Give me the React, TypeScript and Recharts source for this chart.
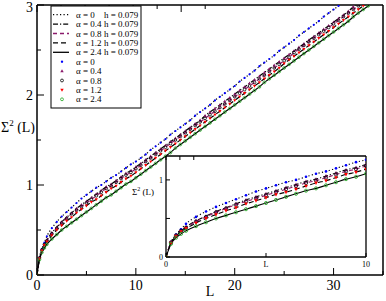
import { ComposedChart, Line, XAxis, YAxis, CartesianGrid } from "recharts";

const FONT = "'Liberation Serif', 'Times New Roman', serif";

// system size L
const lengths = [
  0, 0.25, 0.5, 0.75, 1, 1.5, 2, 2.5, 3,
  3.5, 4, 4.5, 5, 5.5, 6, 6.5, 7, 7.5, 8, 8.5, 9, 9.5, 10,
  10.5, 11, 11.5, 12, 12.5, 13, 13.5, 14, 14.5, 15,
  15.5, 16, 16.5, 17, 17.5, 18, 18.5, 19, 19.5, 20,
  20.5, 21, 21.5, 22, 22.5, 23, 23.5, 24, 24.5, 25,
  25.5, 26, 26.5, 27, 27.5, 28, 28.5, 29, 29.5, 30,
  30.5, 31, 31.5, 32, 32.5, 33, 33.5, 34, 34.5, 35,
];

// number variance for each alpha
const alpha0 = [
  0, 0.19, 0.29, 0.36, 0.43, 0.52, 0.59, 0.65, 0.7,
  0.75, 0.8, 0.85, 0.89, 0.93, 0.97, 1.0, 1.04, 1.08, 1.11, 1.15, 1.19, 1.23, 1.26,
  1.3, 1.34, 1.39, 1.43, 1.47, 1.51, 1.56, 1.6, 1.64, 1.68,
  1.72, 1.77, 1.81, 1.85, 1.89, 1.94, 1.98, 2.02, 2.06, 2.1,
  2.15, 2.19, 2.23, 2.27, 2.32, 2.36, 2.4, 2.44, 2.49, 2.53,
  2.57, 2.61, 2.66, 2.7, 2.74, 2.78, 2.82, 2.87, 2.91, 2.95,
  2.99, 3.04, 3.08, 3.12, 3.16, 3.21, 3.25, 3.29, 3.33, 3.38,
];
const alpha04 = [
  0, 0.19, 0.28, 0.34, 0.39, 0.47, 0.53, 0.59, 0.64,
  0.69, 0.74, 0.78, 0.82, 0.86, 0.9, 0.94, 0.98, 1.01, 1.05, 1.09, 1.13, 1.16, 1.2,
  1.24, 1.28, 1.32, 1.36, 1.4, 1.44, 1.48, 1.52, 1.56, 1.6,
  1.64, 1.68, 1.72, 1.77, 1.81, 1.85, 1.89, 1.93, 1.97, 2.01,
  2.05, 2.09, 2.13, 2.17, 2.21, 2.25, 2.29, 2.33, 2.37, 2.41,
  2.45, 2.49, 2.53, 2.57, 2.61, 2.65, 2.69, 2.73, 2.77, 2.81,
  2.85, 2.89, 2.93, 2.98, 3.02, 3.06, 3.1, 3.14, 3.18, 3.22,
];
const alpha08 = [
  0, 0.19, 0.28, 0.34, 0.38, 0.46, 0.52, 0.58, 0.63,
  0.68, 0.72, 0.76, 0.8, 0.84, 0.88, 0.92, 0.96, 0.99, 1.03, 1.07, 1.11, 1.14, 1.18,
  1.22, 1.26, 1.3, 1.34, 1.38, 1.42, 1.46, 1.5, 1.54, 1.58,
  1.62, 1.66, 1.7, 1.74, 1.78, 1.82, 1.86, 1.9, 1.94, 1.98,
  2.02, 2.06, 2.1, 2.14, 2.18, 2.22, 2.26, 2.3, 2.34, 2.38,
  2.42, 2.47, 2.51, 2.55, 2.59, 2.63, 2.67, 2.71, 2.75, 2.79,
  2.83, 2.87, 2.91, 2.95, 2.99, 3.03, 3.07, 3.11, 3.15, 3.19,
];
const alpha12 = [
  0, 0.18, 0.27, 0.33, 0.37, 0.44, 0.5, 0.55, 0.6,
  0.64, 0.69, 0.73, 0.77, 0.81, 0.84, 0.88, 0.92, 0.96, 0.99, 1.03, 1.07, 1.1, 1.14,
  1.18, 1.22, 1.26, 1.3, 1.34, 1.38, 1.42, 1.46, 1.5, 1.54,
  1.58, 1.62, 1.66, 1.7, 1.74, 1.78, 1.82, 1.86, 1.9, 1.94,
  1.98, 2.02, 2.06, 2.1, 2.14, 2.18, 2.22, 2.26, 2.3, 2.35,
  2.39, 2.43, 2.47, 2.51, 2.55, 2.59, 2.63, 2.67, 2.71, 2.75,
  2.79, 2.83, 2.87, 2.91, 2.95, 2.99, 3.03, 3.07, 3.11, 3.15,
];
const alpha24 = [
  0, 0.17, 0.25, 0.3, 0.34, 0.4, 0.45, 0.5, 0.54,
  0.58, 0.62, 0.66, 0.7, 0.74, 0.78, 0.82, 0.86, 0.89, 0.93, 0.97, 1.01, 1.04, 1.08,
  1.12, 1.16, 1.2, 1.24, 1.28, 1.32, 1.36, 1.41, 1.45, 1.49,
  1.53, 1.57, 1.61, 1.65, 1.69, 1.73, 1.77, 1.81, 1.85, 1.89,
  1.93, 1.97, 2.01, 2.05, 2.09, 2.14, 2.18, 2.22, 2.26, 2.3,
  2.34, 2.38, 2.42, 2.46, 2.5, 2.54, 2.58, 2.62, 2.66, 2.7,
  2.74, 2.78, 2.82, 2.87, 2.91, 2.95, 2.99, 3.03, 3.07, 3.11,
];

const alphaLabels = ["α = 0", "α = 0.4", "α = 0.8", "α = 1.2", "α = 2.4"];
const hLabel = "h = 0.079";

const series = [
  { key: "a0", lineColor: "#000", dash: "1.2 2.3", marker: "dot", color: "#0000ff" },
  { key: "a04", lineColor: "#000", dash: "5 2 1.2 2", marker: "up", color: "#8b1a6b" },
  { key: "a08", lineColor: "#8b1a6b", dash: "4 3", marker: "ring", color: "#000" },
  { key: "a12", lineColor: "#000", dash: "5 3", marker: "down", color: "#ff0000" },
  { key: "a24", lineColor: "#000", dash: undefined, marker: "ring", color: "#22a822" },
];

const rows = lengths.map((L, i) => ({
  L,
  a0: alpha0[i],
  a04: alpha04[i],
  a08: alpha08[i],
  a12: alpha12[i],
  a24: alpha24[i],
}));

function Marker({ cx, cy, shape, color, s = 1 }: any) {
  if (cx == null || cy == null) return null;
  if (shape === "dot") return <circle cx={cx} cy={cy} r={1.3 * s} fill={color} />;
  const a = 2 * s;
  const b = 1.4 * s;
  const w = 1.9 * s;
  if (shape === "up")
    return <path d={`M${cx},${cy - a}L${cx + w},${cy + b}L${cx - w},${cy + b}Z`} fill={color} />;
  if (shape === "down")
    return <path d={`M${cx},${cy + a}L${cx + w},${cy - b}L${cx - w},${cy - b}Z`} fill={color} />;
  return <circle cx={cx} cy={cy} r={1.6 * s} fill="none" stroke={color} strokeWidth={0.8} />;
}

function AxisTick(p: any) {
  const { x, y, payload, side, majors, labels, major, minor, size, gap } = p;
  const v = payload.value;
  const isMajor = majors.includes(v);
  const len = isMajor ? major : minor;
  const showLabel = labels && isMajor;
  const textProps = { fontFamily: FONT, fontSize: size, fill: "#000" };
  if (side === "bottom")
    return (
      <g>
        <line x1={x} y1={y} x2={x} y2={y - len} stroke="#000" strokeWidth={1} />
        {showLabel && <text x={x} y={y + gap} textAnchor="middle" {...textProps}>{v}</text>}
      </g>
    );
  if (side === "top") return <line x1={x} y1={y} x2={x} y2={y + len} stroke="#000" strokeWidth={1} />;
  if (side === "left")
    return (
      <g>
        <line x1={x} y1={y} x2={x + len} y2={y} stroke="#000" strokeWidth={1} />
        {showLabel && (
          <text x={x - gap} y={Math.max(y, size * 0.5)} dy="0.36em" textAnchor="end" {...textProps}>
            {v}
          </text>
        )}
      </g>
    );
  return <line x1={x} y1={y} x2={x - len} y2={y} stroke="#000" strokeWidth={1} />;
}

function renderSeries(lw: number, ms: number) {
  const out: any[] = [];
  series.forEach((s) => {
    out.push(
      <Line
        key={s.key + "-line"}
        xAxisId="b"
        yAxisId="l"
        type="monotone"
        dataKey={s.key}
        stroke={s.lineColor}
        strokeWidth={lw}
        strokeDasharray={s.dash}
        dot={false}
        activeDot={false}
        isAnimationActive={false}
      />
    );
  });
  series.forEach((s) => {
    out.push(
      <Line
        key={s.key + "-pts"}
        xAxisId="b"
        yAxisId="l"
        dataKey={s.key}
        stroke="none"
        strokeWidth={0}
        dot={(d: any) => (
          <Marker key={s.key + d.index} cx={d.cx} cy={d.cy} shape={s.marker} color={s.color} s={ms} />
        )}
        activeDot={false}
        isAnimationActive={false}
      />
    );
  });
  return out;
}

const frame = { stroke: "#000", strokeWidth: 1.5 };

function MainChart() {
  return (
    <ComposedChart width={386} height={301} data={rows} margin={{ top: 0, right: 0, bottom: 0, left: 0 }}>
      <XAxis
        xAxisId="b"
        dataKey="L"
        type="number"
        domain={[0, 35]}
        ticks={[0, 5, 10, 15, 20, 25, 30, 35]}
        interval={0}
        allowDataOverflow
        height={26}
        tickSize={0}
        tickMargin={0}
        tickLine={false}
        axisLine={frame}
        tick={<AxisTick side="bottom" majors={[0, 10, 20, 30]} labels major={7} minor={4} size={14} gap={15} />}
        label={(props: any) => {
          const vb = props.viewBox;
          return (
            <text x={vb.x + vb.width / 2} y={vb.y + 21} textAnchor="middle" fontFamily={FONT} fontSize={14}>
              L
            </text>
          );
        }}
      />
      <XAxis
        xAxisId="t"
        orientation="top"
        type="number"
        domain={[0, 35]}
        ticks={[0, 5, 10, 15, 20, 25, 30, 35]}
        interval={0}
        height={5}
        tickSize={0}
        tickMargin={0}
        tickLine={false}
        axisLine={frame}
        tick={<AxisTick side="top" majors={[0, 10, 20, 30]} major={7} minor={4} />}
      />
      <YAxis
        yAxisId="l"
        type="number"
        domain={[0, 3]}
        ticks={[0, 0.5, 1, 1.5, 2, 2.5, 3]}
        interval={0}
        allowDataOverflow
        width={37}
        tickSize={0}
        tickMargin={0}
        tickLine={false}
        axisLine={frame}
        tick={<AxisTick side="left" majors={[0, 1, 2, 3]} labels major={7} minor={4} size={14} gap={4} />}
      />
      <YAxis
        yAxisId="r"
        orientation="right"
        type="number"
        domain={[0, 3]}
        ticks={[0, 0.5, 1, 1.5, 2, 2.5, 3]}
        interval={0}
        width={3}
        tickSize={0}
        tickMargin={0}
        tickLine={false}
        axisLine={frame}
        tick={<AxisTick side="right" majors={[0, 1, 2, 3]} major={7} minor={4} />}
      />
      {renderSeries(1.2, 0.85)}
    </ComposedChart>
  );
}

function InsetChart() {
  const thin = { stroke: "#000", strokeWidth: 1.3 };
  return (
    <ComposedChart width={245} height={120} data={rows} margin={{ top: 0, right: 0, bottom: 0, left: 0 }}>
      <CartesianGrid xAxisId="b" yAxisId="l" fill="#fff" horizontal={false} vertical={false} />
      <XAxis
        xAxisId="b"
        dataKey="L"
        type="number"
        domain={[0, 10]}
        ticks={[0, 5, 10]}
        interval={0}
        allowDataOverflow
        height={14}
        tickSize={0}
        tickMargin={0}
        tickLine={false}
        axisLine={thin}
        tick={<AxisTick side="bottom" majors={[0, 10]} labels major={4} minor={4} size={8} gap={10} />}
        label={(props: any) => {
          const vb = props.viewBox;
          return (
            <text x={vb.x + vb.width / 2} y={vb.y + 10} textAnchor="middle" fontFamily={FONT} fontSize={8}>
              L
            </text>
          );
        }}
      />
      <XAxis
        xAxisId="t"
        orientation="top"
        type="number"
        domain={[0, 10]}
        ticks={[0, 5, 10]}
        interval={0}
        height={5}
        tickSize={0}
        tickMargin={0}
        tickLine={false}
        axisLine={thin}
        tick={<AxisTick side="top" majors={[0, 10]} major={4} minor={4} />}
      />
      <YAxis
        yAxisId="l"
        type="number"
        domain={[0, 1.31]}
        ticks={[0, 0.5, 1]}
        interval={0}
        allowDataOverflow
        width={40}
        tickSize={0}
        tickMargin={0}
        tickLine={false}
        axisLine={thin}
        tick={<AxisTick side="left" majors={[0, 1]} labels major={4} minor={4} size={8} gap={3} />}
        label={() => (
          <text x={6} y={44} fontFamily={FONT} fontSize={9}>
            Σ<tspan dy={-4} fontSize={6}>2</tspan>
            <tspan dy={4}> (L)</tspan>
          </text>
        )}
      />
      <YAxis
        yAxisId="r"
        orientation="right"
        type="number"
        domain={[0, 1.31]}
        ticks={[0, 0.5, 1]}
        interval={0}
        width={5}
        tickSize={0}
        tickMargin={0}
        tickLine={false}
        axisLine={thin}
        tick={<AxisTick side="right" majors={[0, 1]} major={4} minor={4} />}
      />
      {renderSeries(1.1, 1)}
    </ComposedChart>
  );
}

function LegendBox() {
  const x0 = 51;
  const y0 = 6;
  const rowH = 9.4;
  const first = 14.7;
  const items: any[] = [];
  series.forEach((s, i) => {
    const y = first + i * rowH;
    items.push(
      <g key={"l" + i}>
        <line x1={53} x2={69} y1={y} y2={y} stroke={s.lineColor} strokeWidth={1.3} strokeDasharray={s.dash} />
        <text x={76} y={y + 3} fontFamily={FONT} fontSize={9}>{alphaLabels[i]}</text>
        <text x={104} y={y + 3} fontFamily={FONT} fontSize={9}>{hLabel}</text>
      </g>
    );
  });
  series.forEach((s, i) => {
    const y = first + (i + 5) * rowH;
    items.push(
      <g key={"m" + i}>
        <Marker cx={62} cy={y} shape={s.marker} color={s.color} s={0.9} />
        <text x={76} y={y + 3} fontFamily={FONT} fontSize={9}>{alphaLabels[i]}</text>
      </g>
    );
  });
  return (
    <svg width={386} height={301} style={{ position: "absolute", left: 0, top: 0, pointerEvents: "none" }}>
      <rect x={x0} y={y0} width={90} height={102} fill="#fff" stroke="#000" strokeWidth={1} />
      {items}
    </svg>
  );
}

export default function App() {
  return (
    <div style={{ position: "absolute", left: 0, top: 0, width: 386, height: 301, background: "#fff" }}>
      <MainChart />
      <svg width={40} height={20} style={{ position: "absolute", left: 0, top: 114 }}>
        <text x={1} y={18} fontFamily={FONT} fontSize={14}>
          Σ<tspan dy={-6} fontSize={9}>2</tspan>
          <tspan dy={6}> (L)</tspan>
        </text>
      </svg>
      <div style={{ position: "absolute", left: 126, top: 151 }}>
        <InsetChart />
      </div>
      <LegendBox />
    </div>
  );
}
